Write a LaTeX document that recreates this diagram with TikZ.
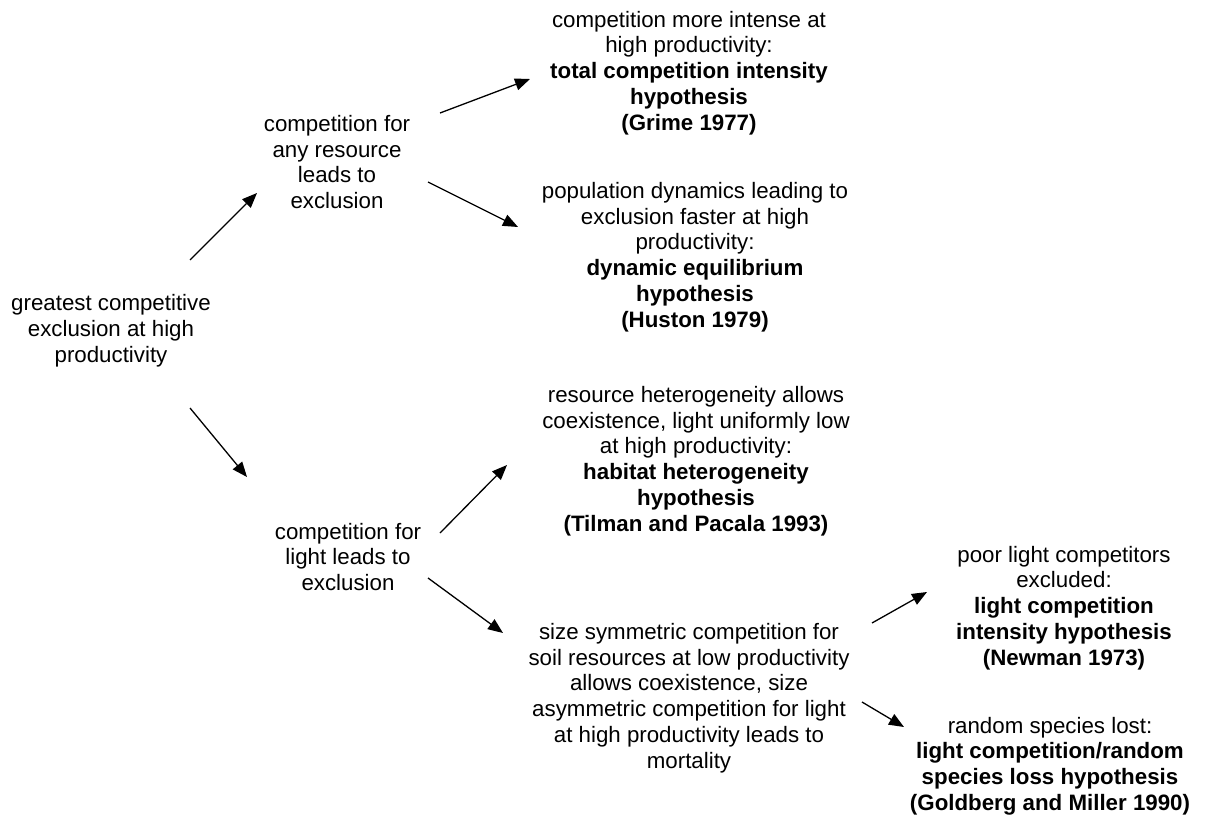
\documentclass[tikz,border=0pt]{standalone}
\usepackage{fontspec}
\setmainfont{Liberation Sans}
\usetikzlibrary{arrows.meta}
\begin{document}
\begin{tikzpicture}[x=1pt,y=-1pt,
  txt/.style={align=center,inner sep=0pt,font=\fontsize{22.3}{25.8}\selectfont},
  arr/.style={line width=1.3pt,-{Triangle[length=15pt,width=12pt]}}]
\useasboundingbox (0,0) rectangle (1205,816);
\node[txt] (root) at (111,331) {greatest competitive\\exclusion at high\\productivity};
\node[txt] (A) at (337,162) {competition for\\any resource\\leads to\\exclusion};
\node[txt] (B) at (348,557) {competition for\\light leads to\\exclusion};
\node[txt] (T1) at (689,73) {competition more intense at\\high productivity:\\\textbf{total competition intensity}\\\textbf{hypothesis}\\\textbf{(Grime 1977)}};
\node[txt] (T2) at (695,257) {population dynamics leading to\\exclusion faster at high\\productivity:\\\textbf{dynamic equilibrium}\\\textbf{hypothesis}\\\textbf{(Huston 1979)}};
\node[txt] (T3) at (696,461) {resource heterogeneity allows\\coexistence, light uniformly low\\at high productivity:\\\textbf{habitat heterogeneity}\\\textbf{hypothesis}\\\textbf{(Tilman and Pacala 1993)}};
\node[txt] (T4) at (689,698) {size symmetric competition for\\soil resources at low productivity\\allows coexistence, size\\asymmetric competition for light\\at high productivity leads to\\mortality};
\node[txt] (T5) at (1064,608) {poor light competitors\\excluded:\\\textbf{light competition}\\\textbf{intensity hypothesis}\\\textbf{(Newman 1973)}};
\node[txt] (T6) at (1050,766) {random species lost:\\\textbf{light competition/random}\\\textbf{species loss hypothesis}\\\textbf{(Goldberg and Miller 1990)}};
% arrow ends
\coordinate (rA1) at (190,260); \coordinate (rA2) at (257,193);
\coordinate (rB1) at (190,408); \coordinate (rB2) at (247,477);
\coordinate (A11) at (440,113); \coordinate (A12) at (530,79);
\coordinate (A21) at (428,182); \coordinate (A22) at (518,227);
\coordinate (B31) at (440,533); \coordinate (B32) at (507,465);
\coordinate (B41) at (428,578); \coordinate (B42) at (503,633);
\coordinate (C51) at (872,623); \coordinate (C52) at (927,592);
\coordinate (C61) at (862,702); \coordinate (C62) at (904,727);
\draw[arr] (rA1) -- (rA2);
\draw[arr] (rB1) -- (rB2);
\draw[arr] (A11) -- (A12);
\draw[arr] (A21) -- (A22);
\draw[arr] (B31) -- (B32);
\draw[arr] (B41) -- (B42);
\draw[arr] (C51) -- (C52);
\draw[arr] (C61) -- (C62);
\end{tikzpicture}
\end{document}
